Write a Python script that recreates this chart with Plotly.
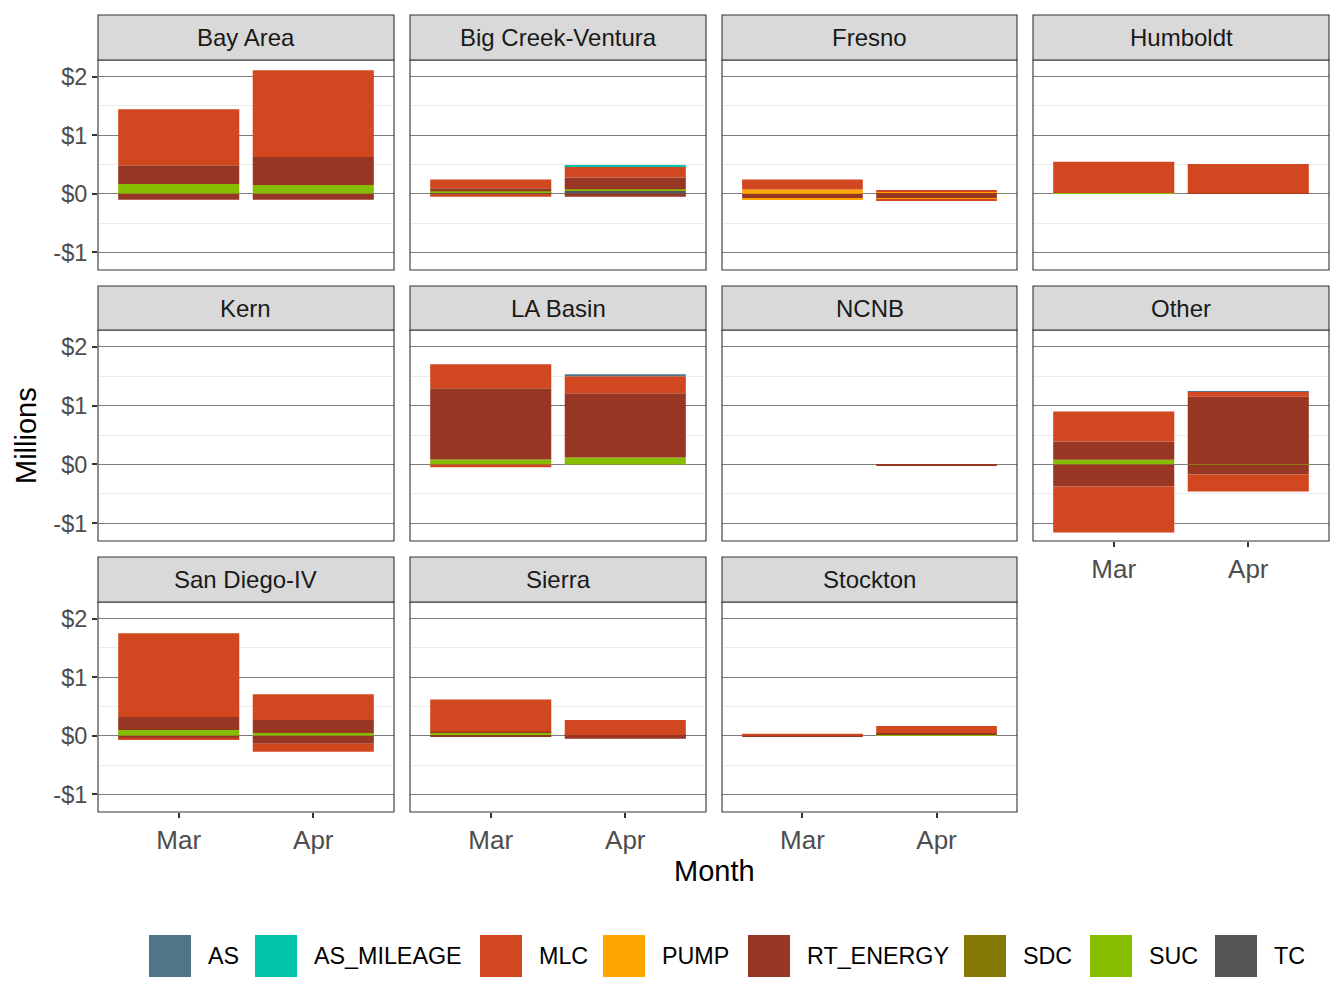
import plotly.graph_objects as go

regions = ["Bay Area", "Big Creek-Ventura", "Fresno", "Humboldt", "Kern", "LA Basin",
           "NCNB", "Other", "San Diego-IV", "Sierra", "Stockton"]
months = ["Mar", "Apr"]

# values in millions, ordered region by region as [Mar, Apr]
TC_pos         = [0, 0,  0.03, 0.05,  0, 0,  0, 0,  0, 0,  0, 0,  0, 0,  0, 0,  0, 0,  0, 0,  0, 0]
SUC_pos        = [0.17, 0.15,  0.015, 0.03,  0, 0,  0.015, 0,  0, 0,  0.085, 0.12,  0, 0,  0.08, 0.01,  0.10, 0.05,  0.06, 0,  0, 0.015]
SDC_pos        = [0, 0,  0, 0,  0, 0,  0, 0,  0, 0,  0, 0,  0, 0,  0, 0,  0, 0,  0, 0,  0, 0]
RT_ENERGY_pos  = [0.32, 0.48,  0.05, 0.20,  0, 0.015,  0, 0.01,  0, 0,  1.21, 1.09,  0, 0,  0.31, 1.14,  0.22, 0.22,  0.01, 0.015,  0, 0.035]
PUMP_pos       = [0, 0,  0, 0,  0.075, 0.015,  0, 0,  0, 0,  0, 0,  0, 0,  0, 0,  0, 0,  0, 0,  0, 0]
MLC_pos        = [0.955, 1.48,  0.15, 0.19,  0.17, 0.035,  0.535, 0.50,  0, 0,  0.41, 0.29,  0, 0,  0.51, 0.085,  1.43, 0.44,  0.55, 0.255,  0.035, 0.12]
AS_MILEAGE_pos = [0, 0,  0, 0.008,  0, 0,  0, 0,  0, 0,  0, 0,  0, 0,  0, 0,  0, 0,  0, 0,  0, 0]
AS_pos         = [0, 0,  0, 0,  0, 0,  0, 0,  0, 0,  0, 0.035,  0, 0,  0, 0.012,  0, 0,  0, 0,  0, 0]

TC_neg         = [0] * 22
SUC_neg        = [0] * 22
SDC_neg        = [0] * 22
RT_ENERGY_neg  = [-0.10, -0.10,  0, -0.05,  -0.07, -0.085,  0, 0,  0, 0,  0, 0,  0, -0.01,  -0.375, -0.17,  -0.05, -0.135,  -0.015, -0.05,  -0.015, 0]
PUMP_neg       = [0, 0,  0, 0,  -0.035, -0.015,  0, 0,  0, 0,  0, 0,  0, 0,  0, 0,  0, 0,  0, 0,  0, 0]
MLC_neg        = [0, 0,  -0.05, 0,  0, -0.015,  0, 0,  0, 0,  -0.045, 0,  0, 0,  -0.78, -0.29,  -0.015, -0.135,  0, 0,  0, 0]
AS_MILEAGE_neg = [0] * 22
AS_neg         = [0] * 22

categories = ["AS", "AS_MILEAGE", "MLC", "PUMP", "RT_ENERGY", "SDC", "SUC", "TC"]
colors = {"AS": "#4E7588", "AS_MILEAGE": "#00C5AC", "MLC": "#D04720", "PUMP": "#FFA600",
          "RT_ENERGY": "#973622", "SDC": "#857A03", "SUC": "#86BD00", "TC": "#555555"}
series = {
    "TC": (TC_pos, TC_neg), "SUC": (SUC_pos, SUC_neg), "SDC": (SDC_pos, SDC_neg),
    "RT_ENERGY": (RT_ENERGY_pos, RT_ENERGY_neg), "PUMP": (PUMP_pos, PUMP_neg),
    "MLC": (MLC_pos, MLC_neg), "AS_MILEAGE": (AS_MILEAGE_pos, AS_MILEAGE_neg),
    "AS": (AS_pos, AS_neg),
}
stack_order = ["TC", "SUC", "SDC", "RT_ENERGY", "PUMP", "MLC", "AS_MILEAGE", "AS"]

W, H = 1344, 1008
col_x = [(98, 394), (410, 706), (722, 1017), (1033, 1329)]
row_y = [(60, 270), (330, 541), (602, 812)]
strip_y = [(15, 60), (286, 330), (557, 602)]
FONT = "Liberation Sans, Arial, sans-serif"

fig = go.Figure()
layout = dict(
    width=W, height=H, margin=dict(l=0, r=0, t=0, b=0),
    paper_bgcolor="white", plot_bgcolor="white", barmode="relative",
    showlegend=False, font=dict(family=FONT),
)
shapes, annotations = [], []

for i, reg in enumerate(regions):
    r, c = divmod(i, 4)
    n = i + 1
    xa = "x" if n == 1 else f"x{n}"
    ya = "y" if n == 1 else f"y{n}"
    for cat in stack_order:
        pos, neg = series[cat]
        for arr in (pos, neg):
            vals = arr[2 * i:2 * i + 2]
            fig.add_trace(go.Bar(
                x=months, y=vals, xaxis=xa, yaxis=ya, width=0.9,
                marker=dict(color=colors[cat], line=dict(width=0)),
                name=cat, showlegend=False, hoverinfo="skip"))
    x0, x1 = col_x[c]
    y0, y1 = row_y[r]
    show_x = (r == 2) or (r == 1 and c == 3)
    show_y = (c == 0)
    layout[f"xaxis{n}"] = dict(
        domain=[x0 / W, x1 / W], anchor=ya, type="category",
        categoryorder="array", categoryarray=months, range=[-0.6, 1.6],
        showgrid=False, zeroline=False, showline=False, fixedrange=True,
        showticklabels=show_x, ticks="outside" if show_x else "",
        ticklen=5, tickwidth=1.6, tickcolor="#333333",
        tickfont=dict(size=26, color="#4D4D4D", family=FONT),
    )
    layout[f"yaxis{n}"] = dict(
        domain=[1 - y1 / H, 1 - y0 / H], anchor=xa, range=[-1.30, 2.285],
        tickvals=[-1, 0, 1, 2], ticktext=["-$1", "$0", "$1", "$2"],
        showgrid=True, gridcolor="#7d7d7d", gridwidth=0.9,
        zeroline=False, showline=False, fixedrange=True,
        minor=dict(tickvals=[-0.5, 0.5, 1.5], showgrid=True, gridcolor="#EBEBEB", gridwidth=0.9),
        showticklabels=show_y, ticks="outside" if show_y else "",
        ticklen=5, tickwidth=1.6, tickcolor="#333333",
        tickfont=dict(size=23.5, color="#4D4D4D", family=FONT),
    )
    # panel border
    shapes.append(dict(type="rect", xref="paper", yref="paper",
                       x0=x0 / W, x1=x1 / W, y0=1 - y1 / H, y1=1 - y0 / H,
                       line=dict(color="#333333", width=1.1), fillcolor="rgba(0,0,0,0)", layer="above"))
    # strip
    s0, s1 = strip_y[r]
    shapes.append(dict(type="rect", xref="paper", yref="paper",
                       x0=x0 / W, x1=x1 / W, y0=1 - s1 / H, y1=1 - s0 / H,
                       line=dict(color="#333333", width=1.1), fillcolor="#D9D9D9", layer="above"))
    annotations.append(dict(text=reg, xref="paper", yref="paper",
                            x=(x0 + x1) / 2 / W, y=1 - (s0 + s1) / 2 / H,
                            xanchor="center", yanchor="middle", showarrow=False,
                            font=dict(size=24, color="#1A1A1A", family=FONT)))

# axis titles
annotations.append(dict(text="Month", xref="paper", yref="paper", x=714 / W, y=1 - 871 / H,
                        xanchor="center", yanchor="middle", showarrow=False,
                        font=dict(size=29, color="black", family=FONT)))
annotations.append(dict(text="Millions", xref="paper", yref="paper", x=26 / W, y=1 - 436 / H,
                        xanchor="center", yanchor="middle", showarrow=False, textangle=-90,
                        font=dict(size=29, color="black", family=FONT)))

# legend
key_x = [149, 255, 480, 603, 748, 964, 1090, 1215]
for cat, kx in zip(categories, key_x):
    shapes.append(dict(type="rect", xref="paper", yref="paper",
                       x0=kx / W, x1=(kx + 42) / W, y0=1 - 977 / H, y1=1 - 935 / H,
                       line=dict(width=0), fillcolor=colors[cat]))
    annotations.append(dict(text=cat, xref="paper", yref="paper", x=(kx + 57) / W, y=1 - 956 / H,
                            xanchor="left", yanchor="middle", showarrow=False,
                            font=dict(size=23.3, color="black", family=FONT)))

layout["shapes"] = shapes
layout["annotations"] = annotations
fig.update_layout(**layout)
fig.write_html("out.html")
